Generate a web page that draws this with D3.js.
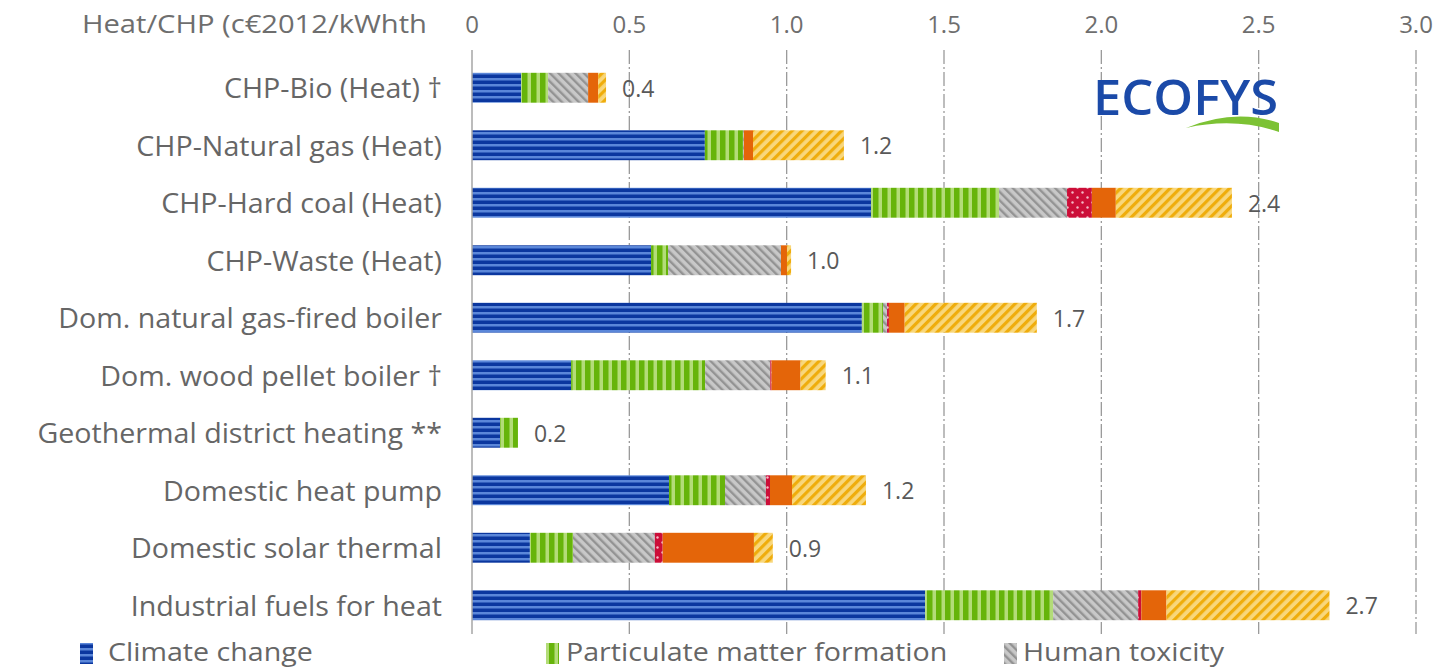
<!DOCTYPE html>
<html>
<head>
<meta charset="utf-8">
<script src="https://cdn.jsdelivr.net/npm/d3@7"></script>
<style>
  html, body { margin: 0; padding: 0; background: #fff; overflow: hidden; }
  svg { display: block; }
  text { font-family: "Open Sans", "Noto Sans", sans-serif; }
</style>
</head>
<body>
<svg id="chart" width="1446" height="670"></svg>
<script>
// ---------- data ----------
const categories = [
  "CHP-Bio (Heat) \u2020",
  "CHP-Natural gas (Heat)",
  "CHP-Hard coal (Heat)",
  "CHP-Waste (Heat)",
  "Dom. natural gas-fired boiler",
  "Dom. wood pellet boiler \u2020",
  "Geothermal district heating **",
  "Domestic heat pump",
  "Domestic solar thermal",
  "Industrial fuels for heat"
];
const seriesNames = ["Climate change", "Particulate matter formation", "Human toxicity",
                     "Other impacts", "Metal depletion", "Energy depletion"];
const climateChange   = [0.156, 0.740, 1.268, 0.569, 1.239, 0.315, 0.089, 0.626, 0.184, 1.440];
const particulate     = [0.086, 0.121, 0.407, 0.054, 0.067, 0.426, 0.057, 0.178, 0.137, 0.407];
const humanToxicity   = [0.127, 0.003, 0.216, 0.359, 0.013, 0.207, 0.000, 0.130, 0.260, 0.270];
const otherImpacts    = [0.000, 0.000, 0.079, 0.000, 0.006, 0.004, 0.000, 0.013, 0.025, 0.010];
const metalDepletion  = [0.032, 0.029, 0.076, 0.019, 0.050, 0.092, 0.000, 0.070, 0.290, 0.080];
const energyDepletion = [0.025, 0.289, 0.369, 0.013, 0.420, 0.080, 0.000, 0.235, 0.060, 0.518];
const totalLabels = ["0.4", "1.2", "2.4", "1.0", "1.7", "1.1", "0.2", "1.2", "0.9", "2.7"];
const tickValues = [0, 0.5, 1.0, 1.5, 2.0, 2.5, 3.0];
const tickLabels = ["0", "0.5", "1.0", "1.5", "2.0", "2.5", "3.0"];
const axisTitle = "Heat/CHP (c\u20ac2012/kWhth";
const legendShown = ["Climate change", "Particulate matter formation", "Human toxicity"];

// ---------- build table ----------
const seriesArrays = [climateChange, particulate, humanToxicity, otherImpacts, metalDepletion, energyDepletion];
const rows = categories.map((c, i) => {
  const r = { category: c, label: totalLabels[i] };
  seriesNames.forEach((s, k) => r[s] = seriesArrays[k][i]);
  return r;
});
const stacked = d3.stack().keys(seriesNames)(rows);

// ---------- layout ----------
const svg = d3.select("#chart");
const x = d3.scaleLinear().domain([0, 3]).range([472, 1416]);
const y = d3.scaleBand().domain(categories).range([59, 634]).paddingInner(0.48).paddingOuter(0.24);

// ---------- patterns ----------
const defs = svg.append("defs");
function pat(id, w, h, build, rotate) {
  const p = defs.append("pattern").attr("id", id).attr("patternUnits", "userSpaceOnUse")
    .attr("width", w).attr("height", h);
  if (rotate) p.attr("patternTransform", "rotate(" + rotate + ")");
  build(p);
}
pat("pBlue", 10, 6, p => {
  p.append("rect").attr("width", 10).attr("height", 6).attr("fill", "#5b87d9");
  p.append("rect").attr("y", 2.5).attr("width", 10).attr("height", 3.5).attr("fill", "#0b379f");
});
pat("pGreen", 9, 10, p => {
  p.append("rect").attr("width", 9).attr("height", 10).attr("fill", "#b3dc78");
  p.append("rect").attr("width", 5.5).attr("height", 10).attr("fill", "#66b40a");
});
pat("pGray", 6, 6, p => {
  p.append("rect").attr("width", 6).attr("height", 6).attr("fill", "#c8c8c8");
  p.append("rect").attr("width", 2.4).attr("height", 6).attr("fill", "#939393");
}, -45);
pat("pRed", 10, 10, p => {
  p.append("rect").attr("width", 10).attr("height", 10).attr("fill", "#cc0e38");
  p.append("circle").attr("cx", 2.5).attr("cy", 2.5).attr("r", 1.2).attr("fill", "#f3b8c4");
  p.append("circle").attr("cx", 7.5).attr("cy", 7.5).attr("r", 1.2).attr("fill", "#f3b8c4");
});
pat("pYellow", 7, 7, p => {
  p.append("rect").attr("width", 7).attr("height", 7).attr("fill", "#f8d77c");
  p.append("rect").attr("width", 3.2).attr("height", 7).attr("fill", "#efad0c");
}, 45);
const fills = {
  "Climate change": "url(#pBlue)",
  "Particulate matter formation": "url(#pGreen)",
  "Human toxicity": "url(#pGray)",
  "Other impacts": "url(#pRed)",
  "Metal depletion": "#e46509",
  "Energy depletion": "url(#pYellow)"
};

// ---------- gridlines ----------
const grid = svg.append("g");
grid.selectAll("line.grid").data(tickValues.filter(v => v > 0)).join("line")
  .attr("class", "grid")
  .attr("x1", d => x(d)).attr("x2", d => x(d))
  .attr("y1", 50).attr("y2", 634)
  .attr("stroke", "#9a9a9a").attr("stroke-width", 1.3)
  .attr("stroke-dasharray", "14,3,2,3");

// ---------- top axis labels ----------
svg.append("g").selectAll("text").data(tickValues).join("text")
  .attr("x", d => x(d)).attr("y", 23)
  .attr("text-anchor", "middle").attr("dominant-baseline", "central")
  .attr("font-size", 24).attr("fill", "#6e6e6e")
  .text((d, i) => tickLabels[i]);
svg.append("text").attr("x", 82).attr("y", 23)
  .attr("text-anchor", "start").attr("dominant-baseline", "central")
  .attr("font-size", 26).attr("fill", "#6e6e6e")
  .attr("textLength", 345).attr("lengthAdjust", "spacingAndGlyphs")
  .text(axisTitle);

// ---------- bars ----------
const gBars = svg.append("g");
stacked.forEach(layer => {
  gBars.append("g").selectAll("rect").data(layer).join("rect")
    .attr("x", d => x(d[0]))
    .attr("width", d => Math.max(0, x(d[1]) - x(d[0])))
    .attr("y", d => y(d.data.category))
    .attr("height", y.bandwidth())
    .attr("fill", fills[layer.key]);
});

// zero axis line
svg.append("line").attr("x1", x(0)).attr("x2", x(0)).attr("y1", 50).attr("y2", 634)
  .attr("stroke", "#a6a6a6").attr("stroke-width", 1.5);

// ---------- category labels ----------
svg.append("g").selectAll("text").data(categories).join("text")
  .attr("x", 442).attr("y", d => y(d) + y.bandwidth() / 2)
  .attr("text-anchor", "end").attr("dominant-baseline", "central")
  .attr("font-size", 27).attr("fill", "#666666")
  .text(d => d)
  .each(function() {
    const w = this.getComputedTextLength();
    d3.select(this).attr("textLength", w * 1.06).attr("lengthAdjust", "spacingAndGlyphs");
  });

// ---------- value labels ----------
const last = stacked[stacked.length - 1];
svg.append("g").selectAll("text").data(last).join("text")
  .attr("x", d => x(d[1]) + 16).attr("y", d => y(d.data.category) + y.bandwidth() / 2)
  .attr("dominant-baseline", "central")
  .attr("font-size", 23).attr("fill", "#595959")
  .text(d => d.data.label);

// ---------- logo ----------
svg.append("text").attr("x", 1093).attr("y", 96)
  .attr("dominant-baseline", "central")
  .attr("font-size", 48).attr("font-weight", 600)
  .attr("textLength", 185).attr("lengthAdjust", "spacingAndGlyphs")
  .attr("fill", "#1b4aa8").text("ECOFYS");
svg.append("path")
  .attr("d", "M1186,128 Q1235,108 1279,123 L1279,132 Q1235,117 1186,128 Z")
  .attr("fill", "#7cc234");

// ---------- legend ----------
const legIconX = [80, 546, 1004];
const legTextX = [108, 566, 1023];
const leg = svg.append("g").selectAll("g").data(legendShown).join("g");
leg.append("rect").attr("x", (d, i) => legIconX[i]).attr("y", 643).attr("width", 13).attr("height", 21)
  .attr("fill", d => fills[d]);
leg.append("text").attr("x", (d, i) => legTextX[i]).attr("y", 651)
  .attr("dominant-baseline", "central").attr("font-size", 26).attr("fill", "#666666")
  .text(d => d)
  .each(function() {
    const w = this.getComputedTextLength();
    d3.select(this).attr("textLength", w * 1.1).attr("lengthAdjust", "spacingAndGlyphs");
  });
</script>
</body>
</html>
